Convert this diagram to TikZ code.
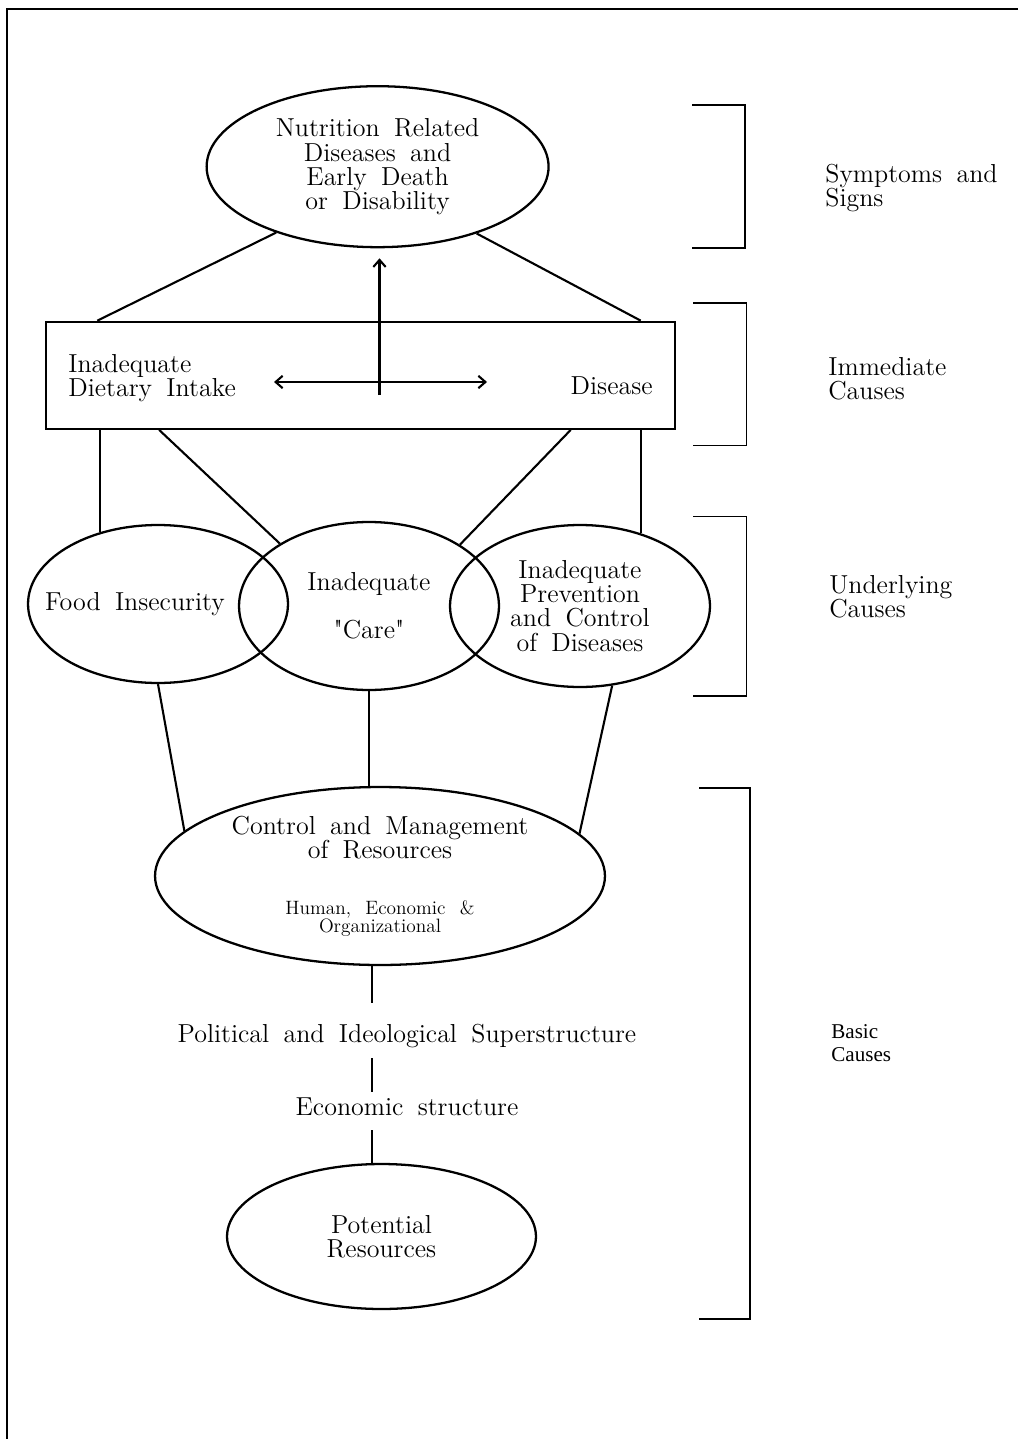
\documentclass[tikz,border=0pt]{standalone}
\usepackage{fontspec}
\newfontfamily\basicfont{Liberation Serif}
\usetikzlibrary{shapes.geometric, calc, arrows.meta}

\newcommand\diagfont{\fontsize{14.8}{13.7}\selectfont\spaceskip=.55em plus .1em\relax}
\newcommand\ctrlfont{\fontsize{11}{11}\selectfont}

\begin{document}
\begin{tikzpicture}[x=0.02cm, y=-0.02cm, >={Straight Barb[length=4pt, width=7pt]},
    every node/.style={font=\diagfont},
    oval/.style={ellipse, draw, line width=1.3pt, inner sep=0pt, align=center},
    txt/.style={inner sep=0pt},
    link/.style={line width=1.2pt},
    bracket/.style={line width=0.7pt}]
    \useasboundingbox (0,0) rectangle (1018,1439);

    % Frame
    \draw[line width=1.2pt] (1018,9) -- (7,9) -- (7,1439);

    % Symptoms
    \node[oval, minimum width=6.84cm, minimum height=3.22cm] (top) at (377.6,166.7)
        {Nutrition Related\\Diseases and\\Early Death\\or Disability};

    % Immediate causes
    \node[draw, line width=1.3pt, minimum width=12.58cm, minimum height=2.14cm, inner sep=0pt] (immed) at (360.5,375.3) {};
    \node[txt, anchor=west, align=left] (intake) at (68,378) {Inadequate\\Dietary Intake};
    \node[txt, anchor=east] (disease) at (653,386) {Disease};
    \coordinate (al) at (274,382);
    \coordinate (ar) at (487,382);
    \coordinate (cross) at (379.5,395);
    \draw[<->, link] (al) -- (ar);
    \draw[->, link, shorten >=0.2cm] (cross) -- (cross |- top.south);

    \draw[link] (top.213.6) -- ($(immed.north west)!0.083!(immed.north east)$);
    \draw[link] (top.326.8) -- ($(immed.north west)!0.944!(immed.north east)$);

    % Underlying causes
    \node[oval, minimum width=5.2cm, minimum height=3.16cm] (food) at (158,604) {};
    \node[txt] (foodtext) at (135,604) {Food Insecurity};
    \node[oval, minimum width=5.2cm, minimum height=3.36cm] (care) at (369,606) {Inadequate\\[13.7pt]\textquotedbl Care\textquotedbl};
    \node[oval, minimum width=5.2cm, minimum height=3.24cm] (prevent) at (580,606)
        {Inadequate\\Prevention\\and Control\\of Diseases};

    \draw[link] (food.129.4 |- immed.south) -- (food.129.4);
    \draw[link] ($(immed.south west)!0.181!(immed.south east)$) -- (care.145.2);
    \draw[link] ($(immed.south west)!0.833!(immed.south east)$) -- (care.34.4);
    \draw[link] (prevent.50.7 |- immed.south) -- (prevent.50.7);

    % Basic causes
    \node[oval, minimum width=9cm, minimum height=3.56cm] (control) at (380,876)
        {Control and Management\\of Resources\\[18pt]\ctrlfont Human, Economic \&\\[-3.4pt]\ctrlfont Organizational};
    \draw[link] (food.south) -- (control.167.7);
    \draw[link] (care.south) -- (care.south |- control.north);
    \draw[link] (prevent.292.2) -- (control.12.2);

    \node[txt] (polit) at (407,1036) {Political and Ideological Superstructure};
    \node[txt] (econ) at (407,1107) {Economic structure};
    \node[oval, minimum width=6.18cm, minimum height=2.9cm] (potential) at (381.5,1236.5) {Potential\\Resources};

    \coordinate (spine) at (372,0);
    \draw[link, shorten >=0.42cm] (spine |- control.south) -- (spine |- polit.north);
    \draw[link, shorten <=0.2cm, shorten >=0.12cm] (spine |- polit.south) -- (spine |- econ.north);
    \draw[link, shorten <=0.28cm] (spine |- econ.south) -- (spine |- potential.north);

    % Brackets
    \draw[bracket] (692,105) -- (745,105) -- (745,248) -- (692,248);
    \draw[bracket] (693,303) -- (746.5,303) -- (746.5,445.7) -- (693,445.7);
    \draw[bracket] (693,516.7) -- (746.5,516.7) -- (746.5,696) -- (693,696);
    \draw[bracket] (699,788) -- (750,788) -- (750,1319) -- (699,1319);

    % Labels
    \node[txt, anchor=west, align=left] (symptoms) at (825,188) {Symptoms and\\Signs};
    \node[txt, anchor=west, align=left] (immediate) at (828,379) {Immediate\\Causes};
    \node[txt, anchor=west, align=left] (underlying) at (829,597) {Underlying\\Causes};
    \node[txt, anchor=west, align=left, font=\basicfont\fontsize{12}{13.3}\selectfont] (basic) at (831,1043) {Basic\\Causes};
\end{tikzpicture}
\end{document}
